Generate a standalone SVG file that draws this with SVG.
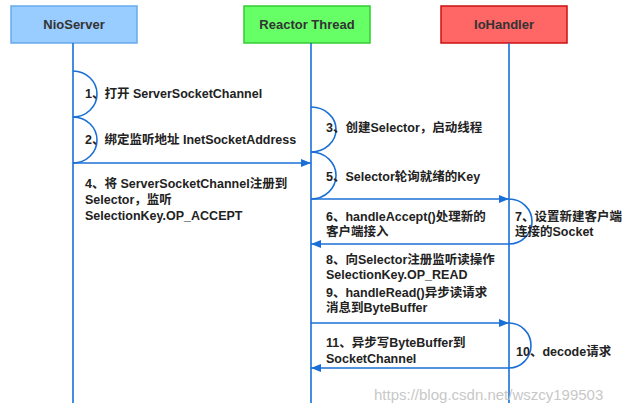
<svg xmlns="http://www.w3.org/2000/svg" width="626" height="413" viewBox="0 0 626 413">
<style>
.hdr{font-family:"Liberation Sans","Noto Sans CJK SC",sans-serif;font-size:13px;font-weight:bold;fill:#333;text-anchor:middle}
.lbl{font-family:"Liberation Sans","Noto Sans CJK SC",sans-serif;font-size:12.5px;font-weight:bold;fill:#222}
.ln{stroke:#1a6fd6;stroke-width:1.6;fill:none}
.wm{font-family:"Liberation Sans",Arial,sans-serif;font-size:15px;fill:#c8c8c8}
</style>
<defs>
<marker id="ah" viewBox="0 0 10 8" refX="10" refY="4" markerWidth="10" markerHeight="8" markerUnits="userSpaceOnUse" orient="auto">
<path d="M0,0 L10,4 L0,8 Z" fill="#1a6fd6"/>
</marker>
</defs>
<rect width="626" height="413" fill="#fff"/>
<g id="nioserver">
<rect x="11" y="6" width="126" height="37" fill="#99ccff" stroke="#66aaee" stroke-width="1.5"/>
<text class="hdr" x="74" y="29">NioServer</text>
<line class="ln" x1="73" y1="43" x2="73" y2="403"/>
</g>
<g id="reactor">
<rect x="244" y="6" width="126" height="37" fill="#66ff66" stroke="#33cc33" stroke-width="1.5"/>
<text class="hdr" x="307" y="29">Reactor Thread</text>
<line class="ln" x1="311" y1="43" x2="311" y2="403"/>
</g>
<g id="iohandler">
<rect x="441" y="6" width="126" height="37" fill="#ff6666" stroke="#cc1111" stroke-width="1.5"/>
<text class="hdr" x="504" y="29">IoHandler</text>
<line class="ln" x1="509" y1="43" x2="509" y2="403"/>
</g>
<g id="connectors">
<path class="ln" d="M73,71 A24,23 0 0 1 73,117"/>
<path class="ln" d="M73,117 A24,23 0 0 1 73,163"/>
<line class="ln" x1="73" y1="163" x2="311" y2="163" marker-end="url(#ah)"/>
<path class="ln" d="M311,107 A25,22.5 0 0 1 311,152"/>
<path class="ln" d="M311,152 A25,23.5 0 0 1 311,199"/>
<line class="ln" x1="311" y1="199" x2="509" y2="199" marker-end="url(#ah)"/>
<path class="ln" d="M509,199 A23,22.5 0 0 1 509,244"/>
<line class="ln" x1="509" y1="244" x2="311" y2="244" marker-end="url(#ah)"/>
<line class="ln" x1="311" y1="323" x2="509" y2="323" marker-end="url(#ah)"/>
<path class="ln" d="M509,323 A22,22.5 0 0 1 509,368"/>
<line class="ln" x1="509" y1="368" x2="311" y2="368" marker-end="url(#ah)"/>
</g>
<g id="labels">
<text class="lbl" x="85" y="98">1、打开 ServerSocketChannel</text>
<text class="lbl" x="85" y="144">2、绑定监听地址 InetSocketAddress</text>
<text class="lbl" x="326" y="132">3、创建Selector，启动线程</text>
<text class="lbl" x="85" y="188">4、将 ServerSocketChannel注册到</text>
<text class="lbl" x="85" y="204">Selector，监听</text>
<text class="lbl" x="85" y="220">SelectionKey.OP_ACCEPT</text>
<text class="lbl" x="326" y="181">5、Selector轮询就绪的Key</text>
<text class="lbl" x="326" y="221">6、handleAccept()处理新的</text>
<text class="lbl" x="326" y="236">客户端接入</text>
<text class="lbl" x="515" y="221">7、设置新建客户端</text>
<text class="lbl" x="515" y="236">连接的Socket</text>
<text class="lbl" x="326" y="264">8、向Selector注册监听读操作</text>
<text class="lbl" x="326" y="279">SelectionKey.OP_READ</text>
<text class="lbl" x="326" y="297">9、handleRead()异步读请求</text>
<text class="lbl" x="326" y="312">消息到ByteBuffer</text>
<text class="lbl" x="326" y="347">11、异步写ByteBuffer到</text>
<text class="lbl" x="326" y="363">SocketChannel</text>
<text class="lbl" x="516" y="356">10、decode请求</text>
<text class="wm" x="374" y="400">https://blog.csdn.net/wszcy199503</text>
</g>
</svg>
